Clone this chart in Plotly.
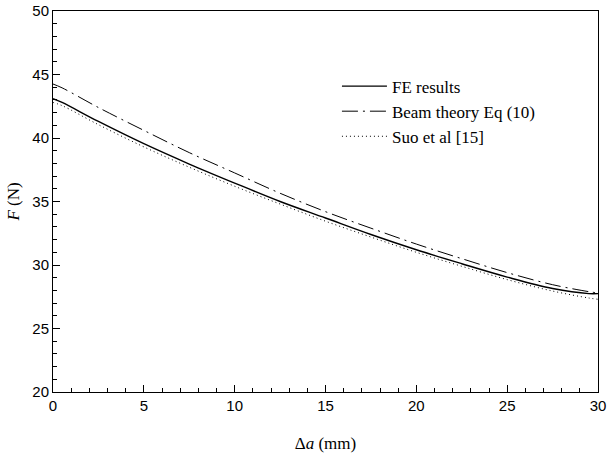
import plotly.graph_objects as go

da = [0, 0.5, 2.5, 5, 7.5, 10, 12.5, 15, 17.5, 20, 22.5, 25, 27.5, 29.5, 30]
fe = [43.1, 42.8, 41.3, 39.55, 37.95, 36.45, 35.0, 33.7, 32.4, 31.2, 30.1, 29.05, 28.15, 27.75, 27.75]
beam = [44.25, 43.95, 42.4, 40.6, 38.85, 37.25, 35.65, 34.2, 32.9, 31.65, 30.5, 29.4, 28.45, 27.9, 27.8]
suo = [42.8, 42.55, 41.05, 39.3, 37.7, 36.2, 34.8, 33.45, 32.2, 31.0, 29.9, 28.85, 27.95, 27.4, 27.3]

x_ticks = [0, 5, 10, 15, 20, 25, 30]
y_ticks = [20, 25, 30, 35, 40, 45, 50]

SERIF = "Liberation Serif, Times New Roman, serif"
SANS = "Liberation Sans, Arial, sans-serif"

fig = go.Figure()
fig.add_trace(go.Scatter(x=da, y=fe, mode="lines", name="FE results",
                         line=dict(color="black", width=1.4, shape="spline")))
fig.add_trace(go.Scatter(x=da, y=beam, mode="lines", name="Beam theory Eq (10)",
                         line=dict(color="black", width=1, dash="16px,5px,2px,5px", shape="spline")))
fig.add_trace(go.Scatter(x=da, y=suo, mode="lines", name="Suo et al [15]",
                         line=dict(color="black", width=1, dash="1px,3px", shape="spline")))

axis_common = dict(showline=True, linecolor="black", linewidth=1, mirror=True,
                   showgrid=False, zeroline=False, ticks="inside", ticklen=7,
                   tickcolor="black", tickwidth=1, automargin=False,
                   tickfont=dict(family=SANS, size=15, color="black"))

fig.update_xaxes(range=[0, 30], tickvals=x_ticks,
                 minor=dict(dtick=1, ticks="inside", ticklen=4, tickcolor="black"),
                 title=dict(text="Δ<i>a</i> (mm)", font=dict(family=SERIF, size=17, color="black"), standoff=24),
                 **axis_common)
fig.update_yaxes(range=[20, 50], tickvals=y_ticks,
                 minor=dict(dtick=1, ticks="inside", ticklen=4, tickcolor="black"),
                 title=dict(text="<i>F</i> (N)", font=dict(family=SERIF, size=17, color="black"), standoff=8),
                 **axis_common)

fig.update_layout(
    width=610, height=456,
    margin=dict(l=53, r=12, t=11, b=64),
    plot_bgcolor="white", paper_bgcolor="white",
    legend=dict(x=0.521, y=0.849, xanchor="left", yanchor="top",
                bgcolor="rgba(0,0,0,0)", itemwidth=45,
                font=dict(family=SERIF, size=17, color="black"),
                tracegroupgap=0),
    showlegend=True,
)

fig.write_html("out.html")
